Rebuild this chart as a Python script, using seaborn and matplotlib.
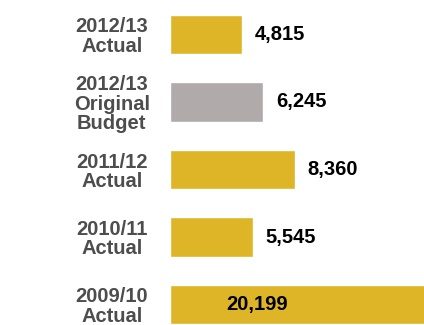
import matplotlib
matplotlib.use("Agg")
import matplotlib.pyplot as plt
import seaborn as sns
import pandas as pd

# Spending by period
categories = ["2012/13\nActual", "2012/13\nOriginal\nBudget", "2011/12\nActual",
              "2010/11\nActual", "2009/10\nActual"]
values = [4815, 6245, 8360, 5545, 20199]
value_labels = ["4,815", "6,245", "8,360", "5,545", "20,199"]
bar_colors = ["#DDB527", "#B0AAAA", "#DDB527", "#DDB527", "#DDB527"]

sns.set_theme(style="white")
plt.rcParams["font.family"] = ["Liberation Sans", "DejaVu Sans"]

df = pd.DataFrame({"category": categories, "value": values})

fig = plt.figure(figsize=(4.24, 3.25), dpi=100)
ax = fig.add_axes([170 / 424, 0, 254 / 424, 1])

sns.barplot(data=df, x="value", y="category", hue="category",
            palette=dict(zip(categories, bar_colors)), legend=False,
            width=0.58, saturation=1, ax=ax)

xmax = 17000
ax.set_xlim(0, xmax)
ax.set_ylim(4 + 20.5 / 67.5, -34.5 / 67.5)

# Value labels: beside the bar, or inside when the bar runs past the axis
for i, (v, lab) in enumerate(zip(values, value_labels)):
    if v > xmax:
        ax.annotate(lab, xy=(0.22, i), xycoords=("axes fraction", "data"),
                    ha="left", va="center", fontsize=14.5, fontweight="bold",
                    color="black")
    else:
        ax.annotate(lab, xy=(v, i), xytext=(9, 0), textcoords="offset points",
                    ha="left", va="center", fontsize=14.5, fontweight="bold",
                    color="black")

ax.set_xlabel("")
ax.set_ylabel("")
ax.set_xticks([])
ax.tick_params(axis="y", length=0, pad=42)
for t in ax.get_yticklabels():
    t.set_ha("center")
    t.set_multialignment("center")
    t.set_fontsize(14.5)
    t.set_fontweight("bold")
    t.set_color("#4D4D4D")
    t.set_linespacing(1.02)
for s in ax.spines.values():
    s.set_visible(False)

fig.savefig("out.png", dpi=100)
